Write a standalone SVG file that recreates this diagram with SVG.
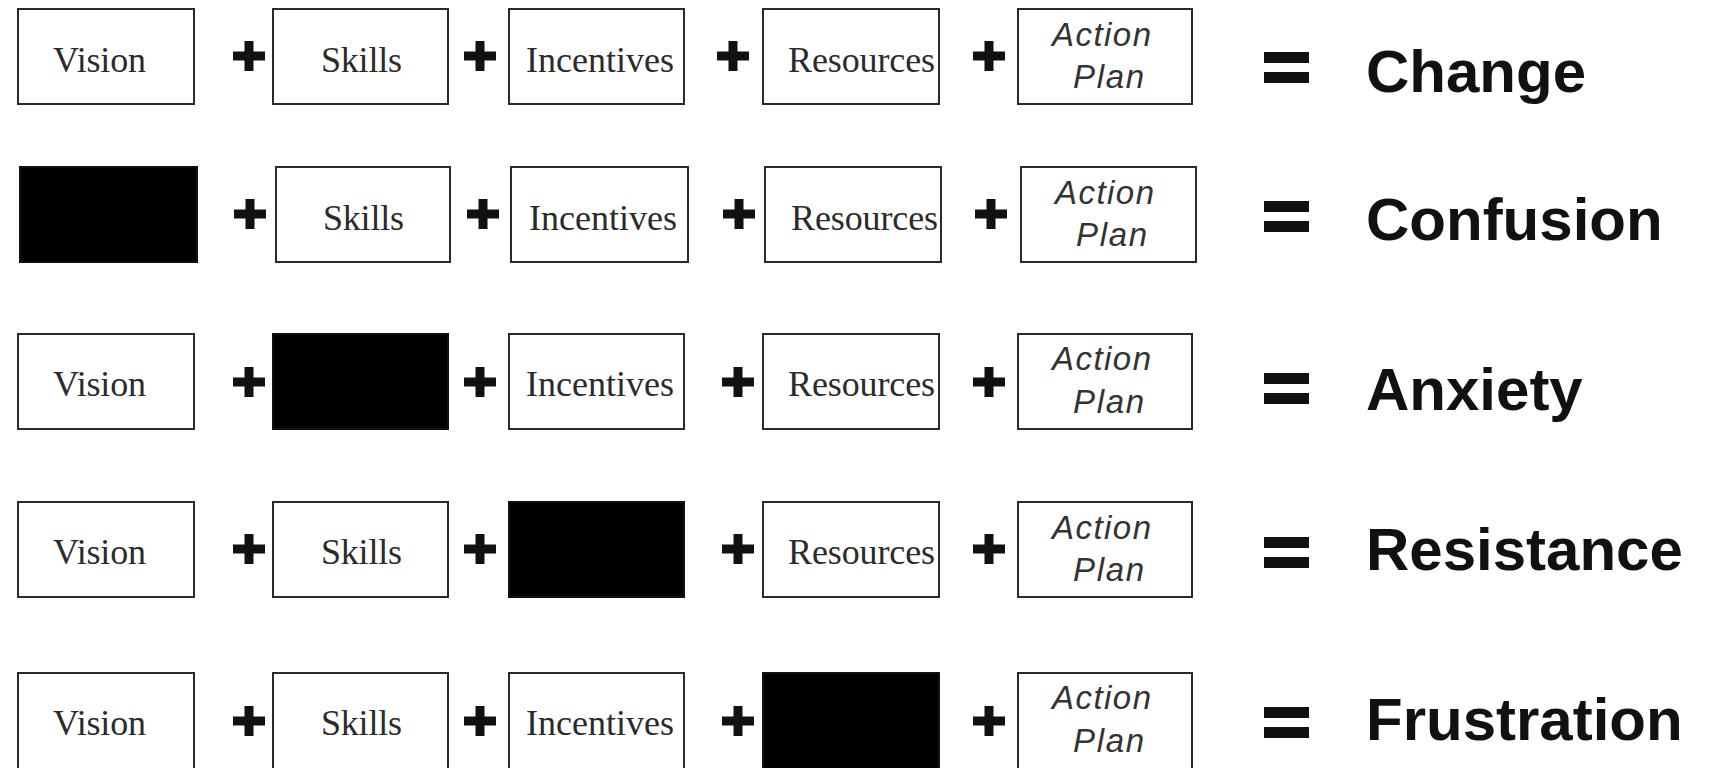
<svg xmlns="http://www.w3.org/2000/svg" xmlns:xlink="http://www.w3.org/1999/xlink" width="1717" height="768" viewBox="0 0 1717 768">
<style>
.box{fill:#fff;stroke:#2a2a2a;stroke-width:2}
.blk{fill:#000;stroke:#111;stroke-width:2}
.ser{font-family:"Liberation Serif","Times New Roman",serif;font-size:36px;fill:#2b2b2b}
.ita{font-family:"Liberation Sans",Arial,sans-serif;font-style:italic;font-size:33px;fill:#333}
.res{font-family:"Liberation Sans",Arial,sans-serif;font-weight:bold;font-size:60px;fill:#111}
.op{fill:#111}
</style>
<defs>
<g id="plus"><rect x="-16" y="-4.5" width="32" height="9"/><rect x="-4.5" y="-15" width="9" height="30"/></g>
<g id="eq"><rect x="0" y="0" width="45" height="11"/><rect x="0" y="20" width="45" height="11"/></g>
</defs>
<rect width="1717" height="768" fill="#fff"/>

<!-- Row 1 -->
<g id="r1-vision"><rect class="box" x="18" y="9" width="176" height="95"/><text class="ser" x="53" y="72" textLength="93">Vision</text></g>
<g id="r1-skills"><rect class="box" x="273" y="9" width="175" height="95"/><text class="ser" x="321" y="72" textLength="81">Skills</text></g>
<g id="r1-incentives"><rect class="box" x="509" y="9" width="175" height="95"/><text class="ser" x="526" y="72" textLength="148">Incentives</text></g>
<g id="r1-resources"><rect class="box" x="763" y="9" width="176" height="95"/><text class="ser" x="788" y="72" textLength="147">Resources</text></g>
<g id="r1-action"><rect class="box" x="1018" y="9" width="174" height="95"/><text class="ita" x="1052" y="46" textLength="99">Action</text><text class="ita" x="1073" y="88" textLength="71">Plan</text></g>
<g id="r1-result"><text class="res" x="1366" y="92">Change</text></g>

<!-- Row 2 -->
<g id="r2-vision-missing"><rect class="blk" x="20" y="167" width="177" height="95"/></g>
<g id="r2-skills"><rect class="box" x="276" y="167" width="174" height="95"/><text class="ser" x="323" y="230" textLength="81">Skills</text></g>
<g id="r2-incentives"><rect class="box" x="511" y="167" width="177" height="95"/><text class="ser" x="529" y="230" textLength="148">Incentives</text></g>
<g id="r2-resources"><rect class="box" x="765" y="167" width="176" height="95"/><text class="ser" x="791" y="230" textLength="147">Resources</text></g>
<g id="r2-action"><rect class="box" x="1021" y="167" width="175" height="95"/><text class="ita" x="1055" y="204" textLength="99">Action</text><text class="ita" x="1076" y="246" textLength="71">Plan</text></g>
<g id="r2-result"><text class="res" x="1366" y="240">Confusion</text></g>

<!-- Row 3 -->
<g id="r3-vision"><rect class="box" x="18" y="334" width="176" height="95"/><text class="ser" x="53" y="396" textLength="93">Vision</text></g>
<g id="r3-skills-missing"><rect class="blk" x="273" y="334" width="175" height="95"/></g>
<g id="r3-incentives"><rect class="box" x="509" y="334" width="175" height="95"/><text class="ser" x="526" y="396" textLength="148">Incentives</text></g>
<g id="r3-resources"><rect class="box" x="763" y="334" width="176" height="95"/><text class="ser" x="788" y="396" textLength="147">Resources</text></g>
<g id="r3-action"><rect class="box" x="1018" y="334" width="174" height="95"/><text class="ita" x="1052" y="370" textLength="99">Action</text><text class="ita" x="1073" y="413" textLength="71">Plan</text></g>
<g id="r3-result"><text class="res" x="1366" y="410">Anxiety</text></g>

<!-- Row 4 -->
<g id="r4-vision"><rect class="box" x="18" y="502" width="176" height="95"/><text class="ser" x="53" y="564" textLength="93">Vision</text></g>
<g id="r4-skills"><rect class="box" x="273" y="502" width="175" height="95"/><text class="ser" x="321" y="564" textLength="81">Skills</text></g>
<g id="r4-incentives-missing"><rect class="blk" x="509" y="502" width="175" height="95"/></g>
<g id="r4-resources"><rect class="box" x="763" y="502" width="176" height="95"/><text class="ser" x="788" y="564" textLength="147">Resources</text></g>
<g id="r4-action"><rect class="box" x="1018" y="502" width="174" height="95"/><text class="ita" x="1052" y="539" textLength="99">Action</text><text class="ita" x="1073" y="581" textLength="71">Plan</text></g>
<g id="r4-result"><text class="res" x="1366" y="570">Resistance</text></g>

<!-- Row 5 -->
<g id="r5-vision"><rect class="box" x="18" y="673" width="176" height="96"/><text class="ser" x="53" y="735" textLength="93">Vision</text></g>
<g id="r5-skills"><rect class="box" x="273" y="673" width="175" height="96"/><text class="ser" x="321" y="735" textLength="81">Skills</text></g>
<g id="r5-incentives"><rect class="box" x="509" y="673" width="175" height="96"/><text class="ser" x="526" y="735" textLength="148">Incentives</text></g>
<g id="r5-resources-missing"><rect class="blk" x="763" y="673" width="176" height="96"/></g>
<g id="r5-action"><rect class="box" x="1018" y="673" width="174" height="96"/><text class="ita" x="1052" y="709" textLength="99">Action</text><text class="ita" x="1073" y="752" textLength="71">Plan</text></g>
<g id="r5-result"><text class="res" x="1366" y="740">Frustration</text></g>

<!-- operators -->
<g id="operators" class="op">
<use xlink:href="#plus" x="249" y="56"/><use xlink:href="#plus" x="480" y="56"/><use xlink:href="#plus" x="733" y="56"/><use xlink:href="#plus" x="989" y="56"/>
<use xlink:href="#plus" x="250" y="214"/><use xlink:href="#plus" x="483" y="214"/><use xlink:href="#plus" x="739" y="214"/><use xlink:href="#plus" x="991" y="214"/>
<use xlink:href="#plus" x="249" y="382"/><use xlink:href="#plus" x="480" y="382"/><use xlink:href="#plus" x="738" y="382"/><use xlink:href="#plus" x="989" y="382"/>
<use xlink:href="#plus" x="249" y="549"/><use xlink:href="#plus" x="480" y="549"/><use xlink:href="#plus" x="738" y="549"/><use xlink:href="#plus" x="989" y="549"/>
<use xlink:href="#plus" x="249" y="721"/><use xlink:href="#plus" x="480" y="721"/><use xlink:href="#plus" x="738" y="721"/><use xlink:href="#plus" x="989" y="721"/>
<use xlink:href="#eq" x="1264" y="52"/>
<use xlink:href="#eq" x="1264" y="201"/>
<use xlink:href="#eq" x="1264" y="373"/>
<use xlink:href="#eq" x="1264" y="537"/>
<use xlink:href="#eq" x="1264" y="707"/>
</g>
</svg>
